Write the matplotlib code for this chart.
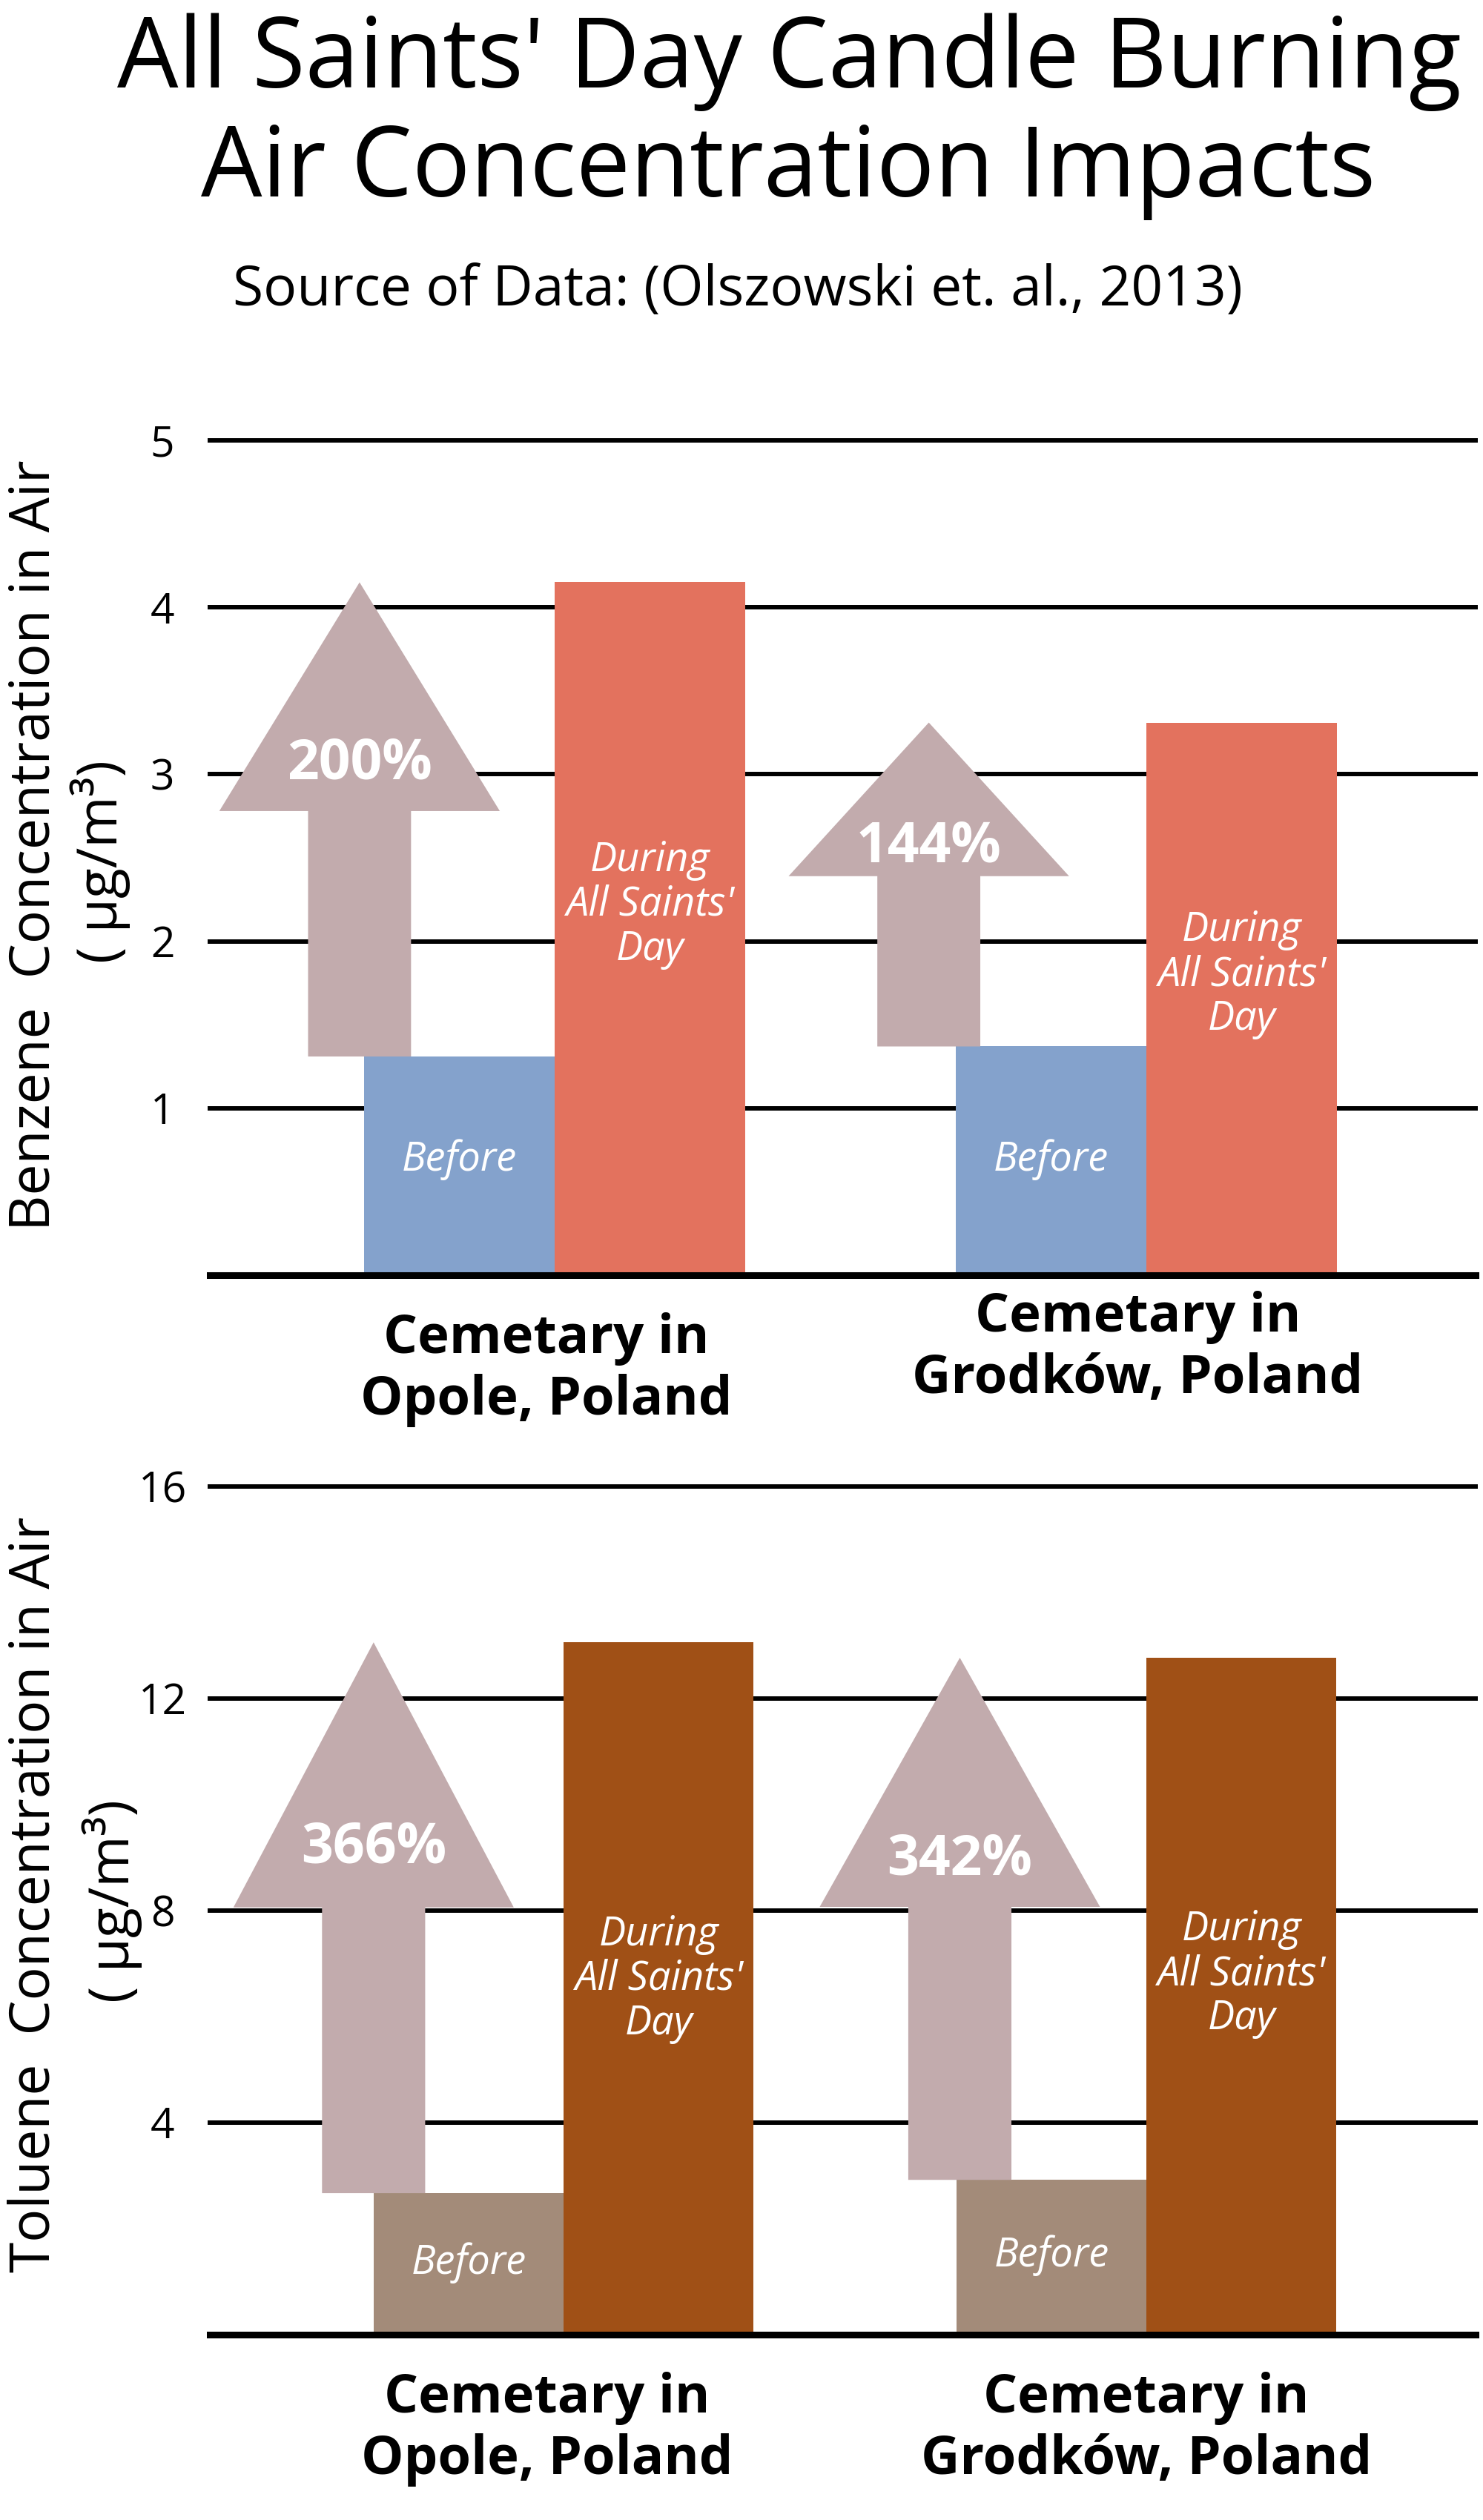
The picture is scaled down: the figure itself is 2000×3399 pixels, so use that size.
import matplotlib
matplotlib.use("Agg")
import matplotlib.pyplot as plt
from matplotlib.patches import FancyArrow
import matplotlib.transforms as mtransforms

# ---------------- data ----------------
sites = ["Opole, Poland", "Grodków, Poland"]
site_prefix = "Cemetary in"
benzene_before = [1.31, 1.37]
benzene_during = [4.15, 3.31]
benzene_pct = ["200%", "144%"]
toluene_before = [2.67, 2.92]
toluene_during = [13.06, 12.77]
toluene_pct = ["366%", "342%"]
benzene_ticks = [1, 2, 3, 4, 5]
toluene_ticks = [4, 8, 12, 16]

# ---------------- style ----------------
FONT = "Open Sans"
W, H = 2000, 3399
fig = plt.figure(figsize=(W / 100, H / 100), dpi=100)
fig.patch.set_facecolor("white")

arrow_col = "#C2ABAD"

def fy(px):
    return 1 - px / H

def fx(px):
    return px / W

panels = [
    dict(before=benzene_before, during=benzene_during, pct=benzene_pct, ticks=benzene_ticks,
         ylim=(0, 5), top_px=594, base_px=1720, xlim=(-0.583, 1.556), bw=0.322,
         c_before="#84A2CC", c_during="#E3725E",
         arrow_dx=[-0.33, -0.368], head_len=[1.37, 0.92], head_w=0.474, shaft_w=0.174,
         pct_y=[3.06, 2.56], before_y=[0.69, 0.69], during_y=[2.22, 1.80],
         lab_base=[(1825, 1908), (1796, 1879)], lab_dx=[-0.014, -0.015],
         ylab1="Benzene  Concentration in Air", ylab1_pos=(47, 1140), ylab2_pos=(135, 1162)),
    dict(before=toluene_before, during=toluene_during, pct=toluene_pct, ticks=toluene_ticks,
         ylim=(0, 16), top_px=2005, base_px=3149, xlim=(-0.607, 1.565), bw=0.326,
         c_before="#A38B79", c_during="#A05016",
         arrow_dx=[-0.326, -0.32], head_len=[5.0, 4.7], head_w=0.481, shaft_w=0.177,
         pct_y=[9.17, 8.95], before_y=[1.36, 1.50], during_y=[6.71, 6.8],
         lab_base=[(3254, 3337), (3254, 3337)], lab_dx=[-0.029, 0.0],
         ylab1="Toluene  Concentration in Air", ylab1_pos=(47, 2555), ylab2_pos=(151, 2564)),
]

left_px, right_px = 283, 1990
xs = list(range(len(sites)))

for p in panels:
    ax = fig.add_axes([fx(left_px), fy(p["base_px"]), fx(right_px - left_px),
                       (p["base_px"] - p["top_px"]) / H])
    ax.set_xlim(*p["xlim"])
    ax.set_ylim(*p["ylim"])
    for s in ax.spines.values():
        s.set_visible(False)
    ax.set_xticks([])
    ax.set_yticks(p["ticks"])
    ax.set_yticklabels([str(t) for t in p["ticks"]], fontfamily=FONT, fontsize=41, ha="center")
    ax.tick_params(axis="y", length=0, pad=46)
    # gridlines
    for t in p["ticks"]:
        ax.axhline(t, color="black", lw=4.3, zorder=1, clip_on=False)
    ax.axhline(0, color="black", lw=6.5, zorder=5, clip_on=False)

    bw = p["bw"]
    xb = [x - bw / 2 for x in xs]
    xd = [x + bw / 2 for x in xs]
    ax.bar(xb, p["before"], bw, color=p["c_before"], zorder=3, linewidth=0)
    ax.bar(xd, p["during"], bw, color=p["c_during"], zorder=3, linewidth=0)

    trans = mtransforms.blended_transform_factory(ax.transData, fig.transFigure)
    for i, x in enumerate(xs):
        ax_x = x + p["arrow_dx"][i]
        arr = FancyArrow(ax_x, p["before"][i], 0, p["during"][i] - p["before"][i],
                         width=p["shaft_w"], head_width=p["head_w"],
                         head_length=p["head_len"][i], length_includes_head=True,
                         color=arrow_col, linewidth=0, zorder=4)
        ax.add_patch(arr)
        ax.text(ax_x, p["pct_y"][i], p["pct"][i], color="white", fontfamily=FONT,
                fontweight="bold", fontsize=54, ha="center", va="center", zorder=6)
        ax.text(xb[i], p["before_y"][i], "Before", color="white", fontfamily=FONT,
                fontstyle="italic", fontsize=39, ha="center", va="center", zorder=6)
        ax.text(xd[i], p["during_y"][i], "During\nAll Saints'\nDay", color="white",
                fontfamily=FONT, fontstyle="italic", fontsize=39, ha="center",
                va="center", linespacing=1.12, zorder=6)
        b1, b2 = p["lab_base"][i]
        lx = x + p["lab_dx"][i]
        ax.text(lx, fy(b1), site_prefix, transform=trans, fontfamily=FONT,
                fontweight="bold", fontsize=52, ha="center", va="baseline", clip_on=False)
        ax.text(lx, fy(b2), sites[i], transform=trans, fontfamily=FONT,
                fontweight="bold", fontsize=52, ha="center", va="baseline", clip_on=False)

    fig.text(fx(p["ylab1_pos"][0]), fy(p["ylab1_pos"][1]), p["ylab1"], rotation=90,
             fontfamily=FONT, fontsize=54, ha="center", va="center")
    fig.text(fx(p["ylab2_pos"][0]), fy(p["ylab2_pos"][1]), "( µg/m³)", rotation=90,
             fontfamily=FONT, fontsize=54, ha="center", va="center")

fig.text(fx(1064), fy(118), "All Saints' Day Candle Burning", fontfamily=FONT,
         fontsize=94, ha="center", va="baseline")
fig.text(fx(1063), fy(265), "Air Concentration Impacts", fontfamily=FONT,
         fontsize=94, ha="center", va="baseline")
fig.text(fx(995), fy(412), "Source of Data: (Olszowski et. al., 2013)", fontfamily=FONT,
         fontsize=54, ha="center", va="baseline")

fig.savefig("out.png", dpi=100, facecolor="white")
